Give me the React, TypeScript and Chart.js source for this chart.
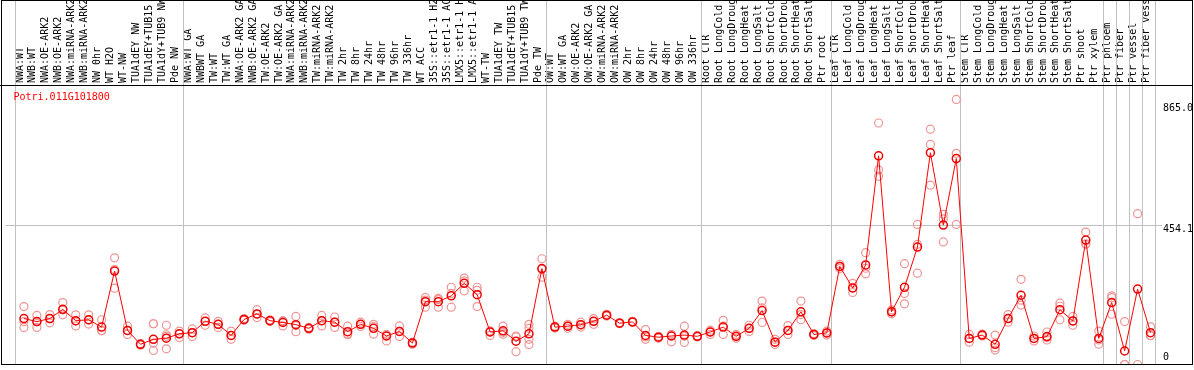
import React, { useEffect, useRef } from "react";
import { Chart, registerables } from "chart.js";

Chart.register(...registerables);

const geneId = "Potri.011G101800";

const categories: string[] = [
  "NWA:WT", "NWB:WT", "NWA:OE-ARK2", "NWB:OE-ARK2", "NWA:miRNA-ARK2", "NWB:miRNA-ARK2",
  "NW 0hr", "WT H2O", "WT-NW", "TUA1dEY NW", "TUA1dEY+TUB15 NW", "TUA1dY+TUB9 NW", "Pde NW",
  "NWA:WT GA", "NWBWT GA", "TW:WT", "TW:WT GA", "NWA:OE-ARK2 GA", "NWB:OE-ARK2 GA",
  "TW:OE-ARK2", "TW:OE-ARK2 GA", "NWA:miRNA-ARK2", "NWB:miRNA-ARK2", "TW:miRNA-ARK2",
  "TW:miRNA-ARK2", "TW 2hr", "TW 8hr", "TW 24hr", "TW 48hr", "TW 96hr", "TW 336hr", "WT ACC",
  "35S::etr1-1 H2O", "35S::etr1-1 ACC", "LMX5::etr1-1 H2O", "LMX5::etr1-1 ACC", "WT-TW",
  "TUA1dEY TW", "TUA1dEY+TUB15 TW", "TUA1dY+TUB9 TW", "Pde TW",
  "OW:WT", "OW:WT GA", "OW:OE-ARK2", "OW:OE-ARK2 GA", "OW:miRNA-ARK2", "OW:miRNA-ARK2",
  "OW 2hr", "OW 8hr", "OW 24hr", "OW 48hr", "OW 96hr", "OW 336hr",
  "Root CTR", "Root LongCold", "Root LongDrought", "Root LongHeat", "Root LongSalt",
  "Root ShortCold", "Root ShortDrought", "Root ShortHeat", "Root ShortSalt", "Ptr root",
  "Leaf CTR", "Leaf LongCold", "Leaf LongDrought", "Leaf LongHeat", "Leaf LongSalt",
  "Leaf ShortCold", "Leaf ShortDrought", "Leaf ShortHeat", "Leaf ShortSalt", "Ptr leaf",
  "Stem CTR", "Stem LongCold", "Stem LongDrought", "Stem LongHeat", "Stem LongSalt",
  "Stem ShortCold", "Stem ShortDrought", "Stem ShortHeat", "Stem ShortSalt", "Ptr shoot",
  "Ptr xylem", "Ptr phloem", "Ptr fiber", "Ptr vessel", "Ptr fiber vessel",
];

const meanValues: number[] = [
  150, 140, 150, 180, 143, 146, 122, 305, 111, 66, 82, 86, 100,
  104, 141, 131, 95, 147, 165, 143, 137, 130, 118, 143, 138, 107, 131, 118, 93, 108, 70,
  205, 205, 224, 265, 228, 106, 110, 76, 100, 313,
  122, 125, 130, 141, 161, 135, 139, 95, 89, 93, 96, 92,
  106, 122, 92, 118, 176, 73, 111, 172, 98, 103,
  320, 250, 325, 681, 172, 252, 383, 691, 455, 672,
  85, 96, 66, 150, 226, 85, 91, 179, 142, 406, 85,
  202, 44, 246, 104,
];

const rep1: (number | null)[] = [
  189, 160, 163, 202, 162, 162, 146, 348, 125, 68, 133, 128, 109,
  116, 152, 141, 109, 150, 179, 146, 143, 157, 121, 160, 155, 125, 138, 131, 98, 126, 73,
  219, 216, 252, 282, 252, 110, 125, 93, 131, 345,
  125, 131, 138, 150, 164, 137, 141, 114, 92, 98, 125, 94,
  112, 144, 98, 128, 207, 82, 127, 207, 95, 109,
  327, 265, 365, 788, 178, 329, 457, 768, 490, 865,
  98, 99, 96, 163, 278, 93, 106, 200, 157, 432, 109,
  224, 140, 492, 123,
];

const rep2: (number | null)[] = [
  140, 140, 150, 178, 142, 145, 111, 310, 111, 66, 70, 97, 100,
  104, 141, 131, 95, 147, 164, 143, 140, 127, 118, 143, 138, 100, 131, 124, 93, 108, 70,
  210, 212, 232, 273, 242, 106, 105, 90, 118, 310,
  122, 125, 130, 141, 161, 135, 139, 90, 89, 93, 92, 92,
  106, 125, 92, 118, 185, 73, 111, 163, 98, 103,
  320, 250, 314, 635, 172, 232, 392, 718, 475, 689,
  85, 96, 55, 150, 210, 85, 88, 190, 142, 394, 80,
  218, 0, 0, 95,
];

const rep3: (number | null)[] = [
  121, 121, 136, 162, 126, 132, 110, 249, 98, 63, 46, 51, 88,
  91, 128, 121, 82, 144, 153, 140, 126, 107, 115, 126, 121, 97, 124, 99, 77, 91, 66,
  187, 187, 187, 240, 189, 95, 99, 42, 82, 285,
  119, 118, 122, 131, 158, 133, 137, 82, 86, 74, 72, 90,
  98, 98, 86, 108, 137, 65, 98, 146, 101, 96,
  313, 235, 296, 614, 166, 198, 298, 585, 400, 457,
  73, 93, 47, 138, 194, 77, 80, 146, 128, 392, 66,
  164, 0, null, 94,
];

const rep4: (number | null)[] = categories.map((_, i) =>
  i === 10 ? 133 : i === 11 ? 92 : i === 39 ? 65 : null
);

// category index where each vertical group line starts
const groupStarts = [0, 13, 41, 53, 63, 73, 84, 85, 86, 87, 88];
const gridValues = [454.1];
const yTickValues = [865.0, 454.1, 0];
const yTickLabels = ["865.0", "454.1", "0"];

const FONT = '10px "DejaVu Sans Mono", "Liberation Mono", monospace';

export default function App() {
  const ref = useRef<HTMLCanvasElement | null>(null);

  useEffect(() => {
    if (!ref.current) return;
    const replicatePoints: { x: number; y: number }[] = [];
    [rep1, rep2, rep3, rep4].forEach((arr) =>
      arr.forEach((v, i) => {
        if (v !== null && v !== undefined) replicatePoints.push({ x: i, y: v });
      })
    );

    const framePlugin = {
      id: "frame",
      beforeDatasetsDraw(chart: any) {
        const ctx = chart.ctx;
        const xs = chart.scales.x;
        const { bottom } = chart.chartArea;
        ctx.save();
        ctx.strokeStyle = "#c0c0c0";
        ctx.lineWidth = 1;
        groupStarts.forEach((k) => {
          const px = Math.round(xs.getPixelForValue(k - 9 / 13)) + 0.5;
          ctx.beginPath();
          ctx.moveTo(px, 0);
          ctx.lineTo(px, bottom);
          ctx.stroke();
        });
        ctx.restore();
      },
      afterDraw(chart: any) {
        const ctx = chart.ctx;
        const ys = chart.scales.y;
        const { left, right, top, bottom } = chart.chartArea;
        ctx.save();
        // frame
        ctx.strokeStyle = "#000";
        ctx.lineWidth = 1;
        ctx.strokeRect(1.5, 0.5, 1191, bottom - 0.5);
        ctx.beginPath();
        ctx.moveTo(0, Math.round(top) + 0.5);
        ctx.lineTo(1193, Math.round(top) + 0.5);
        ctx.stroke();
        // gene id
        ctx.font = FONT;
        ctx.fillStyle = "#ff0000";
        ctx.textAlign = "left";
        ctx.textBaseline = "middle";
        ctx.fillText(geneId, left + 8, top + 12);
        // y labels
        ctx.fillStyle = "#000";
        const nudges = [9, 4, -7];
        yTickValues.forEach((v, i) => {
          ctx.fillText(yTickLabels[i], right + 1, ys.getPixelForValue(v) + nudges[i]);
        });
        ctx.restore();
      },
    };

    const chart = new Chart(ref.current, {
      type: "scatter",
      data: {
        datasets: [
          {
            label: "mean",
            data: meanValues.map((v, i) => ({ x: i, y: v })),
            showLine: true,
            borderColor: "#ff0000",
            borderWidth: 1,
            pointRadius: 4,
            pointBorderWidth: 1.5,
            pointBorderColor: "#ee0000",
            pointBackgroundColor: "rgba(255,255,255,0)",
            tension: 0,
          },
          {
            label: "replicates",
            data: replicatePoints,
            showLine: false,
            pointRadius: 4,
            pointBorderWidth: 1.2,
            pointBorderColor: "#ee9494",
            pointBackgroundColor: "rgba(255,255,255,0)",
          },
        ],
      },
      options: {
        responsive: false,
        animation: false,
        devicePixelRatio: 1,
        layout: { padding: { left: 1, right: 1, top: 0, bottom: 1 } },
        plugins: { legend: { display: false }, tooltip: { enabled: false } },
        scales: {
          x: {
            type: "linear",
            position: "top",
            bounds: "data",
            min: -1.423,
            max: 87.885,
            grid: { display: false, drawTicks: false },
            border: { display: false },
            afterBuildTicks: (s: any) => {
              s.ticks = categories.map((_, i) => ({ value: i }));
            },
            afterFit: (s: any) => {
              s.height = 85;
            },
            ticks: {
              autoSkip: false,
              minRotation: 90,
              maxRotation: 90,
              padding: 2,
              labelOffset: 8,
              color: "#000",
              font: { family: '"DejaVu Sans Mono"', size: 10 },
              callback: (v: any) => categories[Math.round(Number(v))] ?? "",
            },
          },
          y: {
            type: "linear",
            position: "right",
            bounds: "data",
            min: 0,
            max: 912,
            afterBuildTicks: (s: any) => {
              s.ticks = gridValues.map((v) => ({ value: v }));
            },
            afterFit: (s: any) => {
              s.width = 31;
            },
            grid: { color: "#c0c0c0", drawTicks: false },
            border: { display: false },
            ticks: { display: false },
          },
        },
      },
      plugins: [framePlugin],
    } as any);
    return () => chart.destroy();
  }, []);

  return (
    <div style={{ position: "fixed", left: 0, top: 0, width: 1194, height: 370, background: "#fff" }}>
      <canvas ref={ref} width={1194} height={370} style={{ display: "block", width: 1194, height: 370 }} />
    </div>
  );
}
